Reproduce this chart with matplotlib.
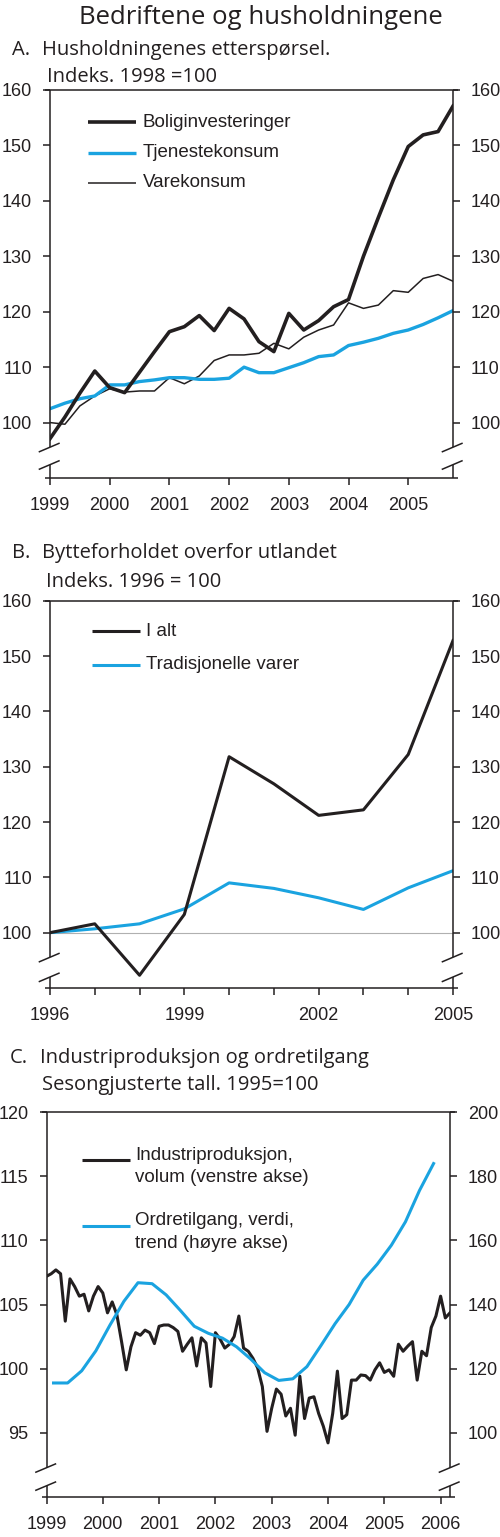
import numpy as np
import matplotlib
matplotlib.use("Agg")
from matplotlib import pyplot as plt

BLACK = "#231f20"
BLUE = "#1aa3e0"
TITLE_FONT = ["Open Sans", "DejaVu Sans"]
plt.rcParams["font.family"] = ["Liberation Sans", "DejaVu Sans"]
plt.rcParams["font.size"] = 13

# ---- panel A: quarterly 1999Q1-2005Q4, index 1998 = 100
a_start = 1999
bolig = [97.1, 101.0, 105.3, 109.3, 106.3, 105.4, 109.1, 112.8, 116.4, 117.3,
         119.3, 116.6, 120.6, 118.7, 114.6, 112.8, 119.7, 116.7, 118.4, 120.9,
         122.2, 130.0, 137.0, 143.8, 149.8, 151.9, 152.5, 157.1]
tjeneste = [102.5, 103.5, 104.3, 104.8, 106.8, 106.8, 107.4, 107.7, 108.1, 108.1,
            107.8, 107.8, 108.0, 110.0, 109.0, 109.0, 109.9, 110.8, 111.9, 112.2,
            113.9, 114.5, 115.2, 116.1, 116.7, 117.7, 118.9, 120.2]
vare = [100.0, 99.7, 103.0, 104.8, 106.1, 105.5, 105.7, 105.7, 108.1, 107.0,
        108.4, 111.2, 112.2, 112.2, 112.5, 114.3, 113.3, 115.4, 116.7, 117.6,
        121.6, 120.6, 121.2, 123.8, 123.5, 126.0, 126.7, 125.5]
a_labels = ["Boliginvesteringer", "Tjenestekonsum", "Varekonsum"]

# ---- panel B: annual 1996-2005, index 1996 = 100
b_years = [1996, 1997, 1998, 1999, 2000, 2001, 2002, 2003, 2004, 2005]
i_alt = [100.0, 101.6, 92.3, 103.3, 131.8, 126.9, 121.2, 122.2, 132.2, 152.8]
tradisjonelle = [100.0, 100.7, 101.6, 104.3, 109.0, 108.0, 106.3, 104.2, 108.1, 111.2]
b_labels = ["I alt", "Tradisjonelle varer"]

# ---- panel C: monthly industrial production (left), quarterly order trend (right)
c_start = 1999
industri = [107.2, 107.4, 107.7, 107.4, 103.7, 107.0, 106.4, 105.65, 105.8, 104.5,
            105.65, 106.4, 105.9, 104.35, 105.2, 104.2, 102.1, 99.9, 101.7, 102.8,
            102.6, 103.0, 102.8, 101.95, 103.3, 103.4, 103.4, 103.2, 102.9, 101.35,
            101.9, 102.4, 100.2, 102.4, 102.0, 98.6, 102.8, 102.3, 101.6, 101.9,
            102.5, 104.1, 101.6, 101.35, 100.8, 100.05, 98.6, 95.1, 96.9, 98.4,
            98.0, 96.3, 96.9, 94.8, 99.4, 96.1, 97.7, 97.8, 96.5, 95.5,
            94.2, 96.5, 99.8, 96.1, 96.4, 99.1, 99.1, 99.5, 99.45, 99.1,
            99.9, 100.45, 99.7, 99.9, 99.4, 101.9, 101.35, 101.75, 102.1, 99.1,
            101.35, 101.0, 103.2, 104.1, 105.65, 103.95, 104.35]
ordre = [115.5, 115.5, 119.3, 125.5, 133.5, 141.0, 146.8, 146.5, 143.0, 138.2,
         133.2, 131.0, 129.5, 126.8, 123.0, 118.7, 116.3, 116.8, 120.6, 127.2,
         134.0, 140.0, 147.6, 152.6, 158.5, 165.8, 175.6, 184.0]
c_labels = ["Industriproduksjon,\nvolum (venstre akse)",
            "Ordretilgang, verdi,\ntrend (høyre akse)"]

W, H = 500, 1537
fig = plt.figure(figsize=(W / 100, H / 100), dpi=100)


def px_axes(left, top, right, bottom):
    return fig.add_axes([left / W, 1 - bottom / H, (right - left) / W, (bottom - top) / H])


def frame(ax, lo_break=0.03, hi_break=0.08):
    # box with broken vertical axes near the bottom
    for s in ax.spines.values():
        s.set_visible(False)
    kw = dict(transform=ax.transAxes, clip_on=False, color=BLACK, lw=1.1,
              solid_capstyle="butt")
    ext = 0.012
    ax.plot([-ext, 1 + ext], [1, 1], **kw)
    ax.plot([-ext, 1 + ext], [0, 0], **kw)
    for x in (0, 1):
        ax.plot([x, x], [hi_break, 1], **kw)
        ax.plot([x, x], [0, lo_break], **kw)
        for yb in (lo_break, hi_break):
            ax.plot([x - 0.028, x + 0.024], [yb - 0.012, yb + 0.011], **kw)
    ax.tick_params(axis="both", direction="out", length=5, width=1.1, color=BLACK,
                   labelsize=13, labelcolor=BLACK)
    ax.tick_params(axis="x", pad=9)
    ax.tick_params(axis="y", pad=8)


def legend_rows(ax, x0, rows, gap, handle_w=0.12):
    # rows: (label, color, lw, y in axes fraction)
    for label, color, lw, y in rows:
        ax.plot([x0, x0 + handle_w], [y, y], transform=ax.transAxes, color=color,
                lw=lw, solid_capstyle="butt", clip_on=False)
        ax.text(x0 + handle_w + gap, y, label, transform=ax.transAxes, va="center",
                ha="left", fontsize=13.5, color=BLACK, linespacing=1.45)


def title(x, y, text, size=14.5):
    fig.text(x / W, 1 - y / H, text, family=TITLE_FONT, fontsize=size, color=BLACK,
             va="center", ha="left")


fig.text(261 / W, 1 - 17 / H, "Bedriftene og husholdningene", family=TITLE_FONT,
         fontsize=18.5, color=BLACK, va="center", ha="center")

# ---------------- panel A
title(12, 50, "A.")
title(42, 50, "Husholdningenes etterspørsel.")
title(47, 77, "Indeks. 1998 =100")
axA = px_axes(50, 90, 453, 478)
xa = a_start + np.arange(len(bolig)) / 4
axA.plot(xa, vare, color=BLACK, lw=1.1)
axA.plot(xa, tjeneste, color=BLUE, lw=2.4)
axA.plot(xa, bolig, color=BLACK, lw=2.6)
axA.set_xlim(a_start, xa[-1])
axA.set_ylim(90, 160)
axA.set_yticks(np.arange(100, 161, 10))
axA.set_xticks(np.arange(1999, 2006))
axA.tick_params(axis="y", right=True, labelright=True)
frame(axA, 0.034, 0.079)
legend_rows(axA, 0.094, [(a_labels[0], BLACK, 2.6, 0.9175),
                         (a_labels[1], BLUE, 2.4, 0.838),
                         (a_labels[2], BLACK, 1.1, 0.761)], 0.016)

# ---------------- panel B
title(12, 553, "B.")
title(42, 553, "Bytteforholdet overfor utlandet")
title(46, 582, "Indeks. 1996 = 100")
axB = px_axes(50, 600.7, 453, 988)
axB.axhline(100, color="#b0b0b0", lw=0.8)
axB.plot(b_years, tradisjonelle, color=BLUE, lw=2.2)
axB.plot(b_years, i_alt, color=BLACK, lw=2.2)
axB.set_xlim(b_years[0], b_years[-1])
axB.set_ylim(90, 160)
axB.set_yticks(np.arange(100, 161, 10))
axB.set_xticks(b_years)
axB.set_xticklabels([str(y) if (y - 1996) % 3 == 0 else "" for y in b_years])
axB.tick_params(axis="y", right=True, labelright=True)
frame(axB, 0.028, 0.079)
legend_rows(axB, 0.104, [(b_labels[0], BLACK, 2.2, 0.921),
                         (b_labels[1], BLUE, 2.2, 0.835)], 0.013)

# ---------------- panel C
title(10, 1058, "C.")
title(40, 1058, "Industriproduksjon og ordretilgang")
title(42, 1085, "Sesongjusterte tall. 1995=100")
axC = px_axes(46.5, 1112.3, 450, 1496.7)
xc = c_start + np.arange(len(industri)) / 12
xo = c_start + 0.125 + np.arange(len(ordre)) / 4
axC.plot(xc, industri, color=BLACK, lw=2.2)
axC.set_xlim(c_start, xc[-1])
axC.set_ylim(90, 120)
axC.set_yticks(np.arange(95, 121, 5))
axC.set_xticks(np.arange(1999, 2007))
axR = axC.twinx()
axR.plot(xo, ordre, color=BLUE, lw=2.2)
axR.set_ylim(80, 200)
axR.set_yticks(np.arange(100, 201, 20))
for s in axR.spines.values():
    s.set_visible(False)
axR.tick_params(axis="y", direction="out", length=5, width=1.1, color=BLACK,
                labelsize=13, labelcolor=BLACK, pad=8)
frame(axC, 0.028, 0.075)
legend_rows(axC, 0.087, [(c_labels[0], BLACK, 2.2, 0.875),
                         (c_labels[1], BLUE, 2.2, 0.705)], 0.013)
# keep the legend text anchored by its first line
for t in axC.texts:
    t.set_va("top")
    t.set_position((t.get_position()[0], t.get_position()[1] + 0.036))

fig.savefig("out.png", dpi=100)
